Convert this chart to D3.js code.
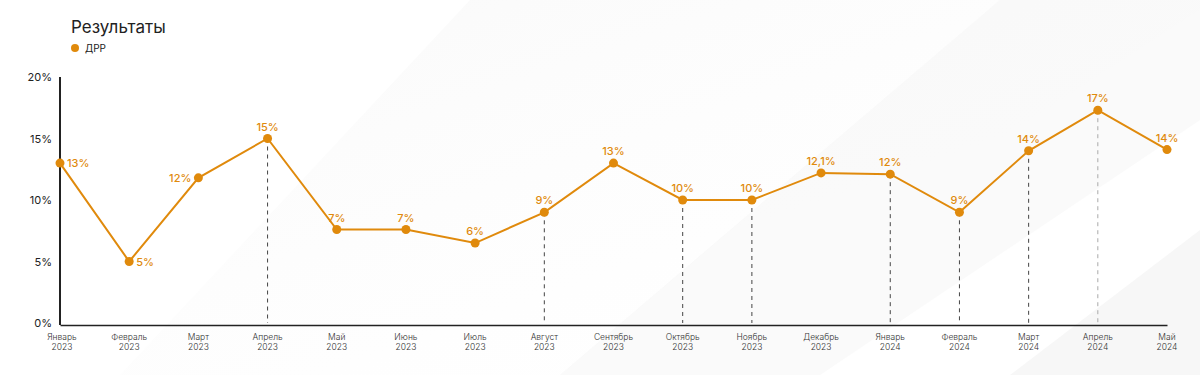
<!DOCTYPE html>
<html>
<head>
<meta charset="utf-8">
<script src="https://cdn.jsdelivr.net/npm/d3@7"></script>
<style>
  html, body { margin: 0; padding: 0; background: #fff; }
  svg { display: block; font-family: Inter, "Open Sans", sans-serif; }
</style>
</head>
<body>
<script>
// months on the x axis (two lines each)
const months = ["Январь", "Февраль", "Март", "Апрель", "Май", "Июнь", "Июль", "Август",
  "Сентябрь", "Октябрь", "Ноябрь", "Декабрь", "Январь", "Февраль", "Март", "Апрель", "Май"];
const years = ["2023", "2023", "2023", "2023", "2023", "2023", "2023", "2023",
  "2023", "2023", "2023", "2023", "2024", "2024", "2024", "2024", "2024"];

// ДРР, percent
const drr = [13, 5, 11.8, 15, 7.6, 7.6, 6.5, 9, 13, 10, 10, 12.2, 12.1, 9, 14, 17.3, 14.1];
const drrLabels = ["13%", "5%", "12%", "15%", "7%", "7%", "6%", "9%", "13%", "10%", "10%",
  "12,1%", "12%", "9%", "14%", "17%", "14%"];

// months that get a dashed drop line
const dropLines = [3, 7, 9, 10, 12, 13, 14, 15];

const yTicks = [0, 5, 10, 15, 20];

const W = 1200, H = 375;
const ORANGE = "#e08a0c";

const svg = d3.select("body").append("svg")
    .attr("width", W)
    .attr("height", H);

// soft diagonal background bands
const defs = svg.append("defs");
const grad = defs.append("linearGradient")
    .attr("id", "band")
    .attr("x1", "0").attr("y1", "0").attr("x2", "1").attr("y2", "1");
grad.append("stop").attr("offset", "0").attr("stop-color", "#f4f4f4").attr("stop-opacity", 1);
grad.append("stop").attr("offset", "1").attr("stop-color", "#ffffff").attr("stop-opacity", 0);

svg.append("rect").attr("width", W).attr("height", H).attr("fill", "#ffffff");
svg.append("polygon")
    .attr("points", "470,0 1200,0 1200,10 640,375 120,375")
    .attr("fill", "url(#band)").attr("opacity", 0.55);
svg.append("polygon")
    .attr("points", "1000,0 1200,0 1200,120 820,375 560,375")
    .attr("fill", "#f6f6f6").attr("opacity", 0.5);
svg.append("polygon")
    .attr("points", "1200,230 1200,375 1010,375")
    .attr("fill", "#f2f2f2").attr("opacity", 0.6);

const x = d3.scalePoint()
    .domain(d3.range(months.length))
    .range([60, 1167]);

const y = d3.scaleLinear()
    .domain([0, 20])
    .range([323, 77]);

// title and legend
svg.append("text")
    .attr("x", 71).attr("y", 33)
    .attr("font-size", 17)
    .attr("fill", "#222")
    .text("Результаты");
svg.append("circle")
    .attr("cx", 75).attr("cy", 48).attr("r", 4)
    .attr("fill", ORANGE);
svg.append("text")
    .attr("x", 85).attr("y", 52)
    .attr("font-size", 10)
    .attr("fill", "#222")
    .text("ДРР");

// y axis: labels only, the line is drawn separately
const yAxis = svg.append("g")
    .attr("transform", "translate(52,0)")
    .call(d3.axisLeft(y).tickValues(yTicks).tickSize(0).tickFormat(d => d + "%"));
yAxis.select(".domain").remove();
yAxis.selectAll("text")
    .attr("x", 0)
    .attr("font-size", 11)
    .attr("font-family", "Inter, sans-serif")
    .attr("fill", "#222");

// dashed drop lines
svg.selectAll(".drop")
    .data(dropLines)
    .enter()
    .append("line")
    .attr("class", "drop")
    .attr("x1", i => x(i)).attr("x2", i => x(i))
    .attr("y1", i => y(drr[i]))
    .attr("y2", y(0))
    .attr("stroke", (i, k) => k === dropLines.length - 1 ? "#aaa" : "#444")
    .attr("stroke-width", 1)
    .attr("stroke-dasharray", "4,4");

// axis lines
svg.append("line")
    .attr("x1", 60).attr("x2", 60)
    .attr("y1", y(20)).attr("y2", y(0) + 2)
    .attr("stroke", "#222").attr("stroke-width", 2);
const xAxis = svg.append("g")
    .attr("transform", `translate(0,${y(0) + 2})`)
    .call(d3.axisBottom(x).tickSize(0).tickFormat(() => ""));
xAxis.select(".domain")
    .attr("stroke", "#222").attr("stroke-width", 1.5);

// two-line x labels
const xl = svg.selectAll(".xl")
    .data(months)
    .enter()
    .append("text")
    .attr("class", "xl")
    .attr("x", (d, i) => x(i) + (i === 0 ? 2 : 0))
    .attr("y", 340)
    .attr("text-anchor", "middle")
    .attr("font-size", 8.5)
    .attr("font-weight", 300)
    .attr("fill", "#333");
xl.append("tspan").text(d => d);
xl.append("tspan")
    .attr("x", (d, i) => x(i) + (i === 0 ? 2 : 0))
    .attr("dy", 10)
    .text((d, i) => years[i]);

// the line
const line = d3.line()
    .x((d, i) => x(i))
    .y(d => y(d));
svg.append("path")
    .datum(drr)
    .attr("d", line)
    .attr("fill", "none")
    .attr("stroke", ORANGE)
    .attr("stroke-width", 2);

svg.selectAll(".pt")
    .data(drr)
    .enter()
    .append("circle")
    .attr("class", "pt")
    .attr("cx", (d, i) => x(i))
    .attr("cy", d => y(d))
    .attr("r", 4.5)
    .attr("fill", ORANGE);

// value labels: first two sit to the right, the third to the left, the rest above
svg.selectAll(".vl")
    .data(drr)
    .enter()
    .append("text")
    .attr("class", "vl")
    .attr("x", (d, i) => i < 2 ? x(i) + 7 : i === 2 ? x(i) - 7 : x(i))
    .attr("y", (d, i) => i < 3 ? y(d) + 1 : y(d) - 8)
    .attr("dominant-baseline", (d, i) => i < 3 ? "middle" : "auto")
    .attr("text-anchor", (d, i) => i < 2 ? "start" : i === 2 ? "end" : "middle")
    .attr("font-size", 11)
    .attr("font-weight", 500)
    .attr("fill", ORANGE)
    .text((d, i) => drrLabels[i]);
</script>
</body>
</html>
